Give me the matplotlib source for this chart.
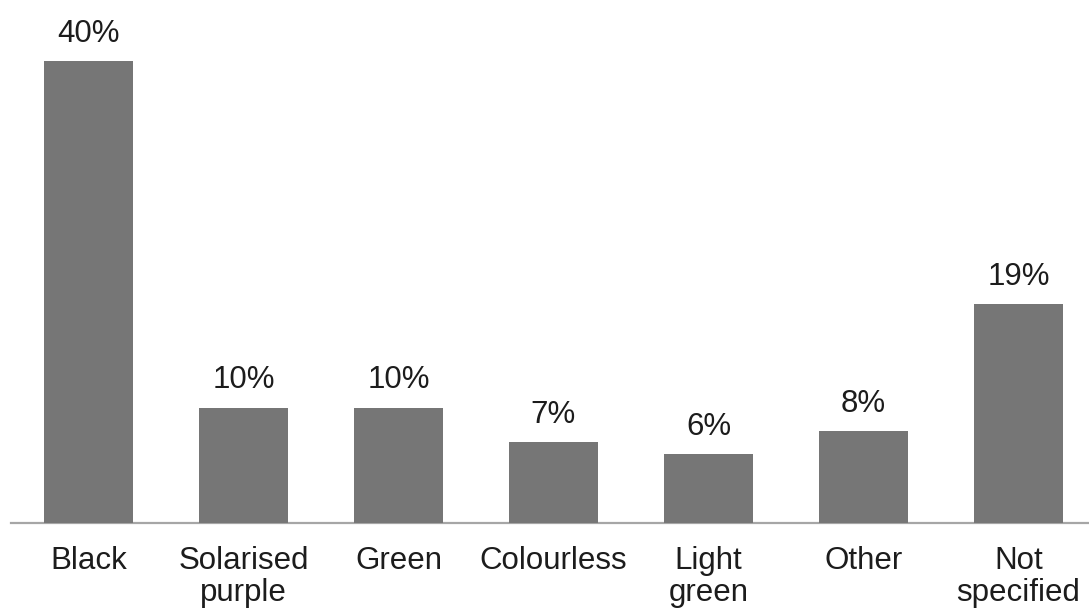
import matplotlib
matplotlib.use("Agg")
import matplotlib.pyplot as plt

plt.rcParams['font.family'] = ['Liberation Sans', 'DejaVu Sans']

categories = ["Black", "Solarised\npurple", "Green", "Colourless",
              "Light\ngreen", "Other", "Not\nspecified"]
shares = [40, 10, 10, 7, 6, 8, 19]

W, H = 1089, 610
fig = plt.figure(figsize=(W / 100, H / 100), dpi=100)
# axes runs from the baseline up to the top edge; the last slot spills past the right edge
ax = fig.add_axes([11 / W, (H - 523) / H, 1085 / W, 523 / H])

x = range(len(categories))
ax.bar(x, shares, width=0.575, color="#767676", zorder=3)
ax.set_xlim(-0.5, len(categories) - 0.5)
ax.set_ylim(0, 40 * 523 / 462)

for side in ("top", "right", "left"):
    ax.spines[side].set_visible(False)
ax.spines["bottom"].set_color("#a6a6a6")
ax.spines["bottom"].set_linewidth(1.6)
ax.set_xticks([])
ax.set_yticks([])

px = 0.72  # points per pixel at 100 dpi
txt = dict(ha="center", va="baseline", fontsize=22.5, color="#1c1c1c")

for xi, v in zip(x, shares):
    ax.annotate(f"{v}%", xy=(xi, v), xytext=(0, 19 * px),
                textcoords="offset points", **txt)

for xi, label in zip(x, categories):
    for i, line in enumerate(label.split("\n")):
        ax.annotate(line, xy=(xi, 0), xycoords=("data", "axes fraction"),
                    xytext=(0, -(46 + 32 * i) * px), textcoords="offset points",
                    annotation_clip=False, **txt)

fig.savefig("out.png", dpi=100)
